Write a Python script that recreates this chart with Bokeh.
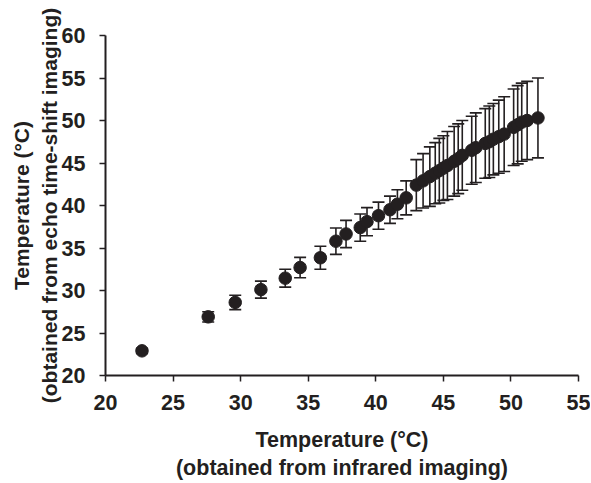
from bokeh.plotting import figure
from bokeh.models import ColumnDataSource, Whisker, TeeHead, Range1d, FixedTicker
from bokeh.embed import file_html
from bokeh.resources import INLINE

# Data
ir_temp = [22.7, 27.6, 29.6, 31.5, 33.3, 34.4, 35.9, 37.05, 37.8, 38.85, 39.35,
           40.2, 41.05, 41.6, 42.25,
           43.0, 43.5, 44.0, 44.4, 44.7, 45.0, 45.3, 45.8, 46.1, 46.4, 47.1,
           47.4, 48.1, 48.4, 48.7, 49.1, 49.5, 50.2, 50.5, 50.8, 51.2, 52.0]
echo_temp = [22.9, 26.9, 28.6, 30.1, 31.45, 32.7, 33.85, 35.8, 36.65, 37.4, 38.1,
             38.8, 39.5, 40.15, 40.9,
             42.4, 42.9, 43.4, 43.8, 44.1, 44.4, 44.7, 45.2, 45.5, 45.9, 46.5,
             46.8, 47.3, 47.5, 47.8, 48.1, 48.4, 49.2, 49.5, 49.8, 50.0, 50.3]
echo_err = [0.3, 0.6, 0.85, 1.0, 1.05, 1.2, 1.35, 1.55, 1.6, 1.6, 1.65,
            1.6, 1.6, 1.7, 2.0,
            3.0, 3.2, 3.5, 3.6, 3.8, 3.8, 4.0, 4.1, 4.1, 4.1, 4.0,
            4.1, 4.1, 4.2, 4.2, 4.3, 4.4, 4.5, 4.6, 4.6, 4.6, 4.7]
x_ticks = [20, 25, 30, 35, 40, 45, 50, 55]
y_ticks = [20, 25, 30, 35, 40, 45, 50, 55, 60]

INK = "#231f20"
FONT = "Liberation Sans"

src = ColumnDataSource(dict(
    x=ir_temp,
    y=echo_temp,
    lower=[v - e for v, e in zip(echo_temp, echo_err)],
    upper=[v + e for v, e in zip(echo_temp, echo_err)],
))

p = figure(width=590, height=483, output_backend="svg", toolbar_location=None,
           x_range=Range1d(20, 55), y_range=Range1d(20, 60),
           min_border_left=105, min_border_right=12, min_border_top=35,
           min_border_bottom=100)
p.outline_line_color = None
p.xgrid.visible = False
p.ygrid.visible = False
p.background_fill_color = "white"
p.border_fill_color = "white"

whisk = Whisker(source=src, base="x", upper="upper", lower="lower",
                dimension="height", line_color=INK, line_width=1.6,
                upper_head=TeeHead(size=12, line_color=INK, line_width=1.6),
                lower_head=TeeHead(size=12, line_color=INK, line_width=1.6))
p.add_layout(whisk)
p.scatter("x", "y", source=src, size=12.5, marker="circle",
          fill_color=INK, line_color=INK)

for ax in (p.xaxis[0], p.yaxis[0]):
    ax.axis_line_color = INK
    ax.axis_line_width = 2
    ax.major_tick_line_color = INK
    ax.major_tick_line_width = 1.5
    ax.major_tick_in = 0
    ax.major_tick_out = 6
    ax.minor_tick_line_color = None
    ax.major_label_text_font = FONT
    ax.major_label_text_font_style = "bold"
    ax.major_label_text_font_size = "21.5px"
    ax.major_label_text_color = INK
    ax.axis_label_text_font = FONT
    ax.axis_label_text_font_style = "bold"
    ax.axis_label_text_font_size = "21.5px"
    ax.axis_label_text_color = INK

p.yaxis.axis_label_text_font_size = "21px"
p.xaxis.ticker = FixedTicker(ticks=x_ticks)
p.yaxis.ticker = FixedTicker(ticks=y_ticks)
p.xaxis.major_label_standoff = 13
p.yaxis.major_label_standoff = 14
p.xaxis.axis_label = "Temperature (°C)\n(obtained from infrared imaging)"
p.yaxis.axis_label = "Temperature (°C)\n(obtained from echo time-shift imaging)"
p.xaxis.axis_label_standoff = 15
p.yaxis.axis_label_standoff = -2

open("out.html", "w").write(file_html(p, INLINE))
